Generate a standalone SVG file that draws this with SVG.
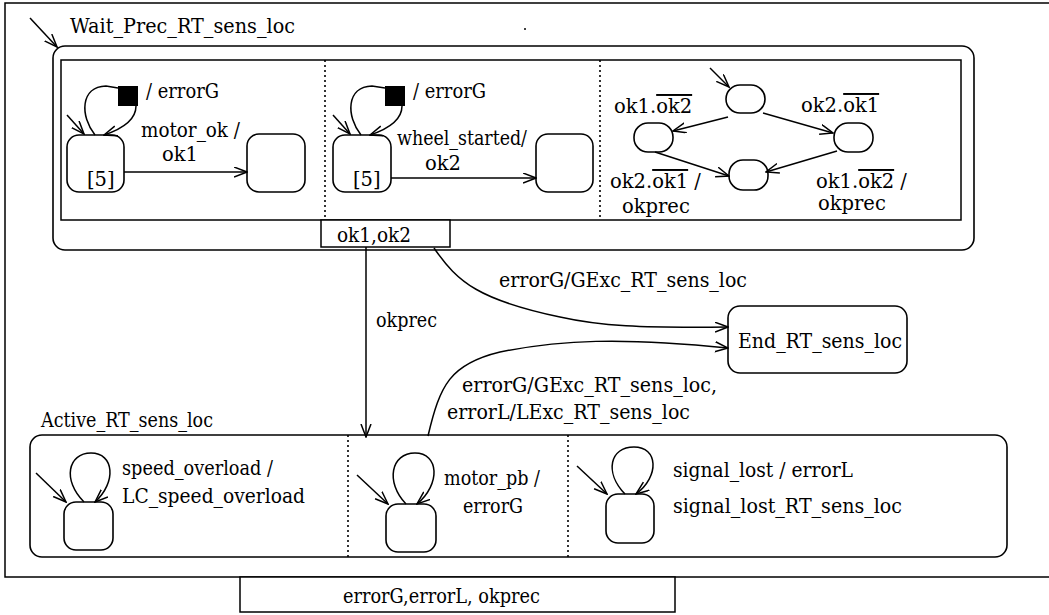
<svg xmlns="http://www.w3.org/2000/svg" width="1049" height="615" viewBox="0 0 1049 615">
  <style>
    text { font-family: "DejaVu Serif", serif; font-size: 19.5px; fill: #000; }
    .st { fill: #fff; stroke: #000; stroke-width: 1.6; }
    .ln { fill: none; stroke: #000; stroke-width: 1.5; }
    .dot { fill: none; stroke: #000; stroke-width: 1.6; stroke-dasharray: 2 3; }
    .arr { fill: none; stroke: #000; stroke-width: 1.5; marker-end: url(#open); }
    .ov { text-decoration: overline; }
  </style>
  <defs>
    <marker id="open" markerUnits="userSpaceOnUse" markerWidth="14" markerHeight="12" refX="13" refY="5.5" orient="auto" viewBox="0 0 14 12">
      <path d="M0,0.5 L13,5.5 L0,10.5" fill="none" stroke="#000" stroke-width="1.5"/>
    </marker>
  </defs>

  <rect width="1049" height="615" fill="#fff"/>

  <!-- outer frame, open on the right -->
  <g id="frame">
    <path class="ln" d="M1052,3 L5,3 L5,577 L1052,577"/>
    <rect x="240" y="577" width="435" height="35" fill="#fff" stroke="#000" stroke-width="1.5"/>
    <text x="343" y="603" textLength="197" lengthAdjust="spacingAndGlyphs">errorG,errorL, okprec</text>
    <circle cx="525" cy="29" r="1" fill="#000"/>
  </g>

  <!-- composite state Wait_Prec_RT_sens_loc -->
  <g id="wait_prec">
    <text x="70" y="33" textLength="225" lengthAdjust="spacingAndGlyphs">Wait_Prec_RT_sens_loc</text>
    <rect class="st" x="53" y="46" width="921" height="204" rx="12"/>
    <rect class="ln" x="61" y="60" width="900" height="160"/>
    <line class="dot" x1="325" y1="60" x2="325" y2="220"/>
    <line class="dot" x1="600" y1="60" x2="600" y2="220"/>
    <rect x="321" y="220" width="129" height="27" fill="#fff" stroke="#000" stroke-width="1.5"/>
    <text x="337" y="242" textLength="74" lengthAdjust="spacingAndGlyphs">ok1,ok2</text>
  </g>

  <!-- region 1: motor -->
  <g id="motor_region">
    <rect class="st" x="67" y="135" width="57" height="57" rx="12"/>
    <text x="87" y="186">[5]</text>
    <rect class="st" x="247" y="134" width="58" height="58" rx="12"/>
    <rect x="118" y="86" width="20" height="20" fill="#000"/>
    <text x="146" y="98" textLength="73" lengthAdjust="spacingAndGlyphs">/ errorG</text>
    <text x="141" y="137" textLength="99" lengthAdjust="spacingAndGlyphs">motor_ok /</text>
    <text x="162" y="161">ok1</text>
  </g>

  <!-- region 2: wheel -->
  <g id="wheel_region">
    <rect class="st" x="333" y="135" width="58" height="57" rx="12"/>
    <text x="353" y="186">[5]</text>
    <rect class="st" x="536" y="134" width="57" height="58" rx="12"/>
    <rect x="385" y="86" width="20" height="20" fill="#000"/>
    <text x="413" y="98" textLength="73" lengthAdjust="spacingAndGlyphs">/ errorG</text>
    <text x="397" y="145" textLength="130" lengthAdjust="spacingAndGlyphs">wheel_started/</text>
    <text x="425" y="170">ok2</text>
  </g>

  <!-- region 3: precision combination -->
  <g id="prec_region">
    <rect class="st" x="726" y="85" width="39" height="28" rx="14"/>
    <rect class="st" x="634" y="123" width="39" height="29" rx="14"/>
    <rect class="st" x="834" y="123" width="39" height="29" rx="14"/>
    <rect class="st" x="729" y="160" width="39" height="30" rx="14"/>
    <text x="614" y="113">ok1.<tspan class="ov">ok2</tspan></text>
    <text x="801" y="112">ok2.<tspan class="ov">ok1</tspan></text>
    <text x="610" y="188">ok2.<tspan class="ov">ok1</tspan> /</text>
    <text x="622" y="213">okprec</text>
    <text x="816" y="188">ok1.<tspan class="ov">ok2</tspan> /</text>
    <text x="818" y="210">okprec</text>
  </g>

  <!-- final state -->
  <g id="end_state">
    <rect class="st" x="728" y="306" width="179" height="67" rx="12"/>
    <text x="738" y="348" textLength="164" lengthAdjust="spacingAndGlyphs">End_RT_sens_loc</text>
  </g>

  <!-- composite state Active_RT_sens_loc -->
  <g id="active">
    <text x="41" y="427" textLength="172" lengthAdjust="spacingAndGlyphs">Active_RT_sens_loc</text>
    <rect class="st" x="30" y="435" width="977" height="122" rx="12"/>
    <line class="dot" x1="348" y1="435" x2="348" y2="557"/>
    <line class="dot" x1="568" y1="435" x2="568" y2="557"/>
    <rect class="st" x="64" y="502" width="49" height="48" rx="12"/>
    <text x="122" y="475" textLength="151" lengthAdjust="spacingAndGlyphs">speed_overload /</text>
    <text x="122" y="503" textLength="183" lengthAdjust="spacingAndGlyphs">LC_speed_overload</text>
    <rect class="st" x="386" y="504" width="50" height="48" rx="12"/>
    <text x="444" y="485" textLength="96" lengthAdjust="spacingAndGlyphs">motor_pb /</text>
    <text x="463" y="513" textLength="60" lengthAdjust="spacingAndGlyphs">errorG</text>
    <rect class="st" x="606" y="494" width="48" height="49" rx="12"/>
    <text x="673" y="477" textLength="180" lengthAdjust="spacingAndGlyphs">signal_lost  / errorL</text>
    <text x="673" y="513" textLength="229" lengthAdjust="spacingAndGlyphs">signal_lost_RT_sens_loc</text>
  </g>

  <!-- transitions -->
  <g id="connectors">
    <!-- initial arrows -->
    <line class="arr" x1="30" y1="18" x2="57" y2="47"/>
    <line class="arr" x1="67" y1="115" x2="84" y2="134"/>
    <line class="arr" x1="333" y1="115" x2="350" y2="134"/>
    <line class="arr" x1="710" y1="68" x2="729" y2="87"/>
    <line class="arr" x1="36" y1="473" x2="66" y2="502"/>
    <line class="arr" x1="357" y1="475" x2="388" y2="504"/>
    <line class="arr" x1="577" y1="466" x2="607" y2="494"/>

    <!-- timeout loops with error actions -->
    <path class="ln" d="M95,135 C80,116 80,87 106,86 L118,88"/>
    <path class="arr" d="M136,106 C136,120 122,129 104,135"/>
    <path class="ln" d="M361,135 C346,116 346,87 372,86 L385,88"/>
    <path class="arr" d="M402,106 C402,120 388,129 370,135"/>

    <!-- local transitions -->
    <line class="arr" x1="124" y1="172" x2="247" y2="172"/>
    <line class="arr" x1="391" y1="178" x2="536" y2="178"/>
    <line class="arr" x1="728" y1="117" x2="673" y2="131"/>
    <line class="arr" x1="763" y1="113" x2="833" y2="133"/>
    <line class="arr" x1="655" y1="152" x2="729" y2="176"/>
    <line class="arr" x1="837" y1="151" x2="766" y2="172"/>

    <!-- self loops in Active -->
    <path class="arr" d="M84,502 C62,480 68,453 91,453 C114,453 117,482 95,502"/>
    <path class="arr" d="M406,504 C385,482 391,453 415,453 C439,453 441,484 417,504"/>
    <path class="arr" d="M625,494 C604,472 610,447 634,447 C658,447 660,476 636,494"/>

    <!-- leaving Wait_Prec -->
    <line class="arr" x1="366" y1="247" x2="366" y2="437"/>
    <text x="376" y="327" textLength="61" lengthAdjust="spacingAndGlyphs">okprec</text>
    <path class="arr" d="M434,248 C458,283 480,300 560,317 C600,326 640,328 728,327"/>
    <text x="499" y="287" textLength="248" lengthAdjust="spacingAndGlyphs">errorG/GExc_RT_sens_loc</text>
    <path class="arr" d="M428,436 C440,385 450,364 500,352 C560,340 620,337 728,348"/>
    <text x="462" y="392" textLength="255" lengthAdjust="spacingAndGlyphs">errorG/GExc_RT_sens_loc,</text>
    <text x="447" y="419" textLength="243" lengthAdjust="spacingAndGlyphs">errorL/LExc_RT_sens_loc</text>
  </g>
</svg>
